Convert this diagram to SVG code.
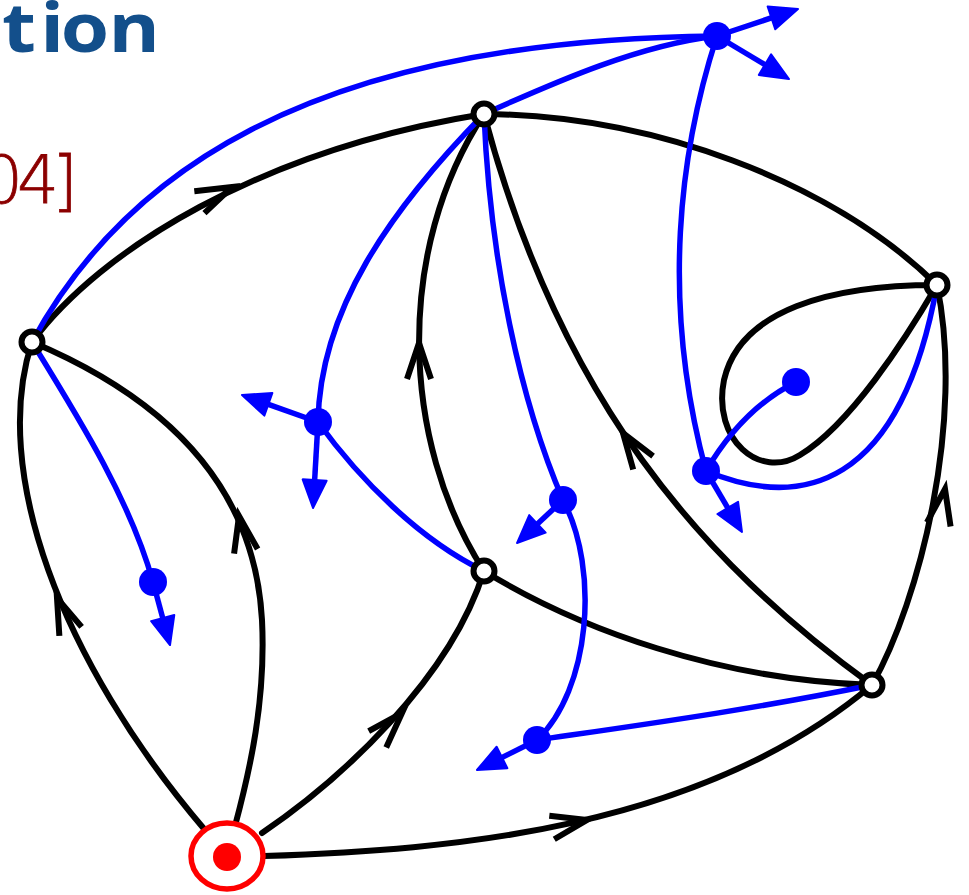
<svg xmlns="http://www.w3.org/2000/svg" width="969" height="895" viewBox="0 0 969 895">
<style>
.bk{fill:none;stroke:#000;stroke-width:6;stroke-linecap:round}
.bl{fill:none;stroke:#0000ff;stroke-width:5.5;stroke-linecap:round}
.ba{fill:none;stroke:#0000ff;stroke-width:5.5;marker-end:url(#tri)}
.ch{fill:none;stroke:#000;stroke-width:6;stroke-linejoin:miter;stroke-miterlimit:10}
.v{fill:#fff;stroke:#000;stroke-width:6}
.f{fill:#0000ff}
</style>
<defs>
<marker id="tri" markerUnits="userSpaceOnUse" markerWidth="32" markerHeight="28" refX="18" refY="12" orient="auto" overflow="visible">
<path d="M0,0 L28,12 L0,24 Z" fill="#0000ff" stroke="#0000ff" stroke-width="2" stroke-linejoin="round"/>
</marker>
<path id="chev" d="M -36 -12 L 0 0 L -36 12" class="ch"/>
</defs>
<text transform="scale(1.15,1)" x="1.7 35.1 52.8 94.3" y="52" font-family="'Open Sans', sans-serif" font-weight="bold" font-size="68" fill="#134f8b">tion</text>
<text x="-19 17 52" y="203" font-family="'DejaVu Sans', sans-serif" font-weight="200" font-size="66" fill="#8b0000" stroke="#8b0000" stroke-width="0.8">04]</text>
<g id="connectors">
<path class="bk" d="M 32 342 C -10 470, 60 660, 205 830"/>
<path class="bk" d="M 32 342 C 170 400, 255 490, 262 620 C 266 700, 250 770, 235 826"/>
<path class="bk" d="M 262 833 C 340 780, 450 680, 484 571"/>
<path class="bk" d="M 264 856 C 450 850, 700 830, 872 685"/>
<path class="bk" d="M 32 342 C 100 250, 260 150, 484 114"/>
<path class="bk" d="M 484 114 C 650 115, 830 180, 937 285"/>
<path class="bk" d="M 484 571 C 400 440, 395 250, 484 114"/>
<path class="bk" d="M 872 685 C 700 560, 560 400, 484 114"/>
<path class="bk" d="M 484 571 C 580 630, 720 680, 872 685"/>
<path class="bk" d="M 872 685 C 920 600, 965 420, 937 285"/>
<path class="bk" d="M 937 285 C 830 285, 740 310, 724 380 C 712 440, 760 480, 800 455 C 850 425, 905 340, 937 285"/>
<use href="#chev" transform="translate(57,598) rotate(-112)"/>
<use href="#chev" transform="translate(239,516) rotate(-101)"/>
<use href="#chev" transform="translate(402,713) rotate(-47)"/>
<use href="#chev" transform="translate(587,820) rotate(-12)"/>
<use href="#chev" transform="translate(232,187) rotate(-25)"/>
<use href="#chev" transform="translate(419,343) rotate(-90)"/>
<use href="#chev" transform="translate(623,433) rotate(-124)"/>
<use href="#chev" transform="translate(945,489) rotate(-80)"/>
<path class="bl" d="M 32 342 C 120 180, 300 40, 717 36"/>
<path class="bl" d="M 484 114 C 560 80, 640 45, 717 36"/>
<path class="bl" d="M 717 36 C 680 150, 660 300, 706 471"/>
<path class="bl" d="M 484 114 C 390 210, 320 310, 318 422"/>
<path class="bl" d="M 484 571 C 420 540, 360 480, 318 422"/>
<path class="bl" d="M 32 342 C 80 420, 130 500, 153 582"/>
<path class="bl" d="M 484 114 C 490 260, 520 400, 563 500"/>
<path class="bl" d="M 563 500 C 600 570, 590 690, 537 740"/>
<path class="bl" d="M 706 471 C 730 430, 760 400, 796 382"/>
<path class="bl" d="M 706 471 C 800 510, 900 490, 937 285"/>
<path class="bl" d="M 872 685 C 750 710, 640 725, 537 740"/>
<path class="ba" d="M 717 36 L 788.5 12.2"/>
<path class="ba" d="M 717 36 L 780.4 73.9"/>
<path class="ba" d="M 318 422 L 251.4 398.3"/>
<path class="ba" d="M 318 422 L 313.6 498"/>
<path class="ba" d="M 153 582 L 167.4 635.4"/>
<path class="ba" d="M 563 500 L 524.3 536.2"/>
<path class="ba" d="M 706 471 L 736.9 523.4"/>
<path class="ba" d="M 537 740 L 485.9 765.5"/>
</g>
<g id="A"><circle class="v" cx="32" cy="342" r="10.5"/></g>
<g id="B"><circle class="v" cx="484" cy="114" r="10.5"/></g>
<g id="C"><circle class="v" cx="937" cy="285" r="10.5"/></g>
<g id="D"><circle class="v" cx="484" cy="571" r="10.5"/></g>
<g id="E"><circle class="v" cx="872" cy="685" r="10.5"/></g>
<g id="S"><ellipse cx="227" cy="856" rx="36" ry="33" fill="#fff" stroke="#ff0000" stroke-width="5.5"/><circle cx="227" cy="857" r="14" fill="#ff0000"/></g>
<g id="F1"><circle class="f" cx="717" cy="36" r="14"/></g>
<g id="F2"><circle class="f" cx="318" cy="422" r="14"/></g>
<g id="F3"><circle class="f" cx="153" cy="582" r="14"/></g>
<g id="F4"><circle class="f" cx="563" cy="500" r="14"/></g>
<g id="F5"><circle class="f" cx="706" cy="471" r="14"/></g>
<g id="F6"><circle class="f" cx="796" cy="382" r="14"/></g>
<g id="F7"><circle class="f" cx="537" cy="740" r="14"/></g>
</svg>
